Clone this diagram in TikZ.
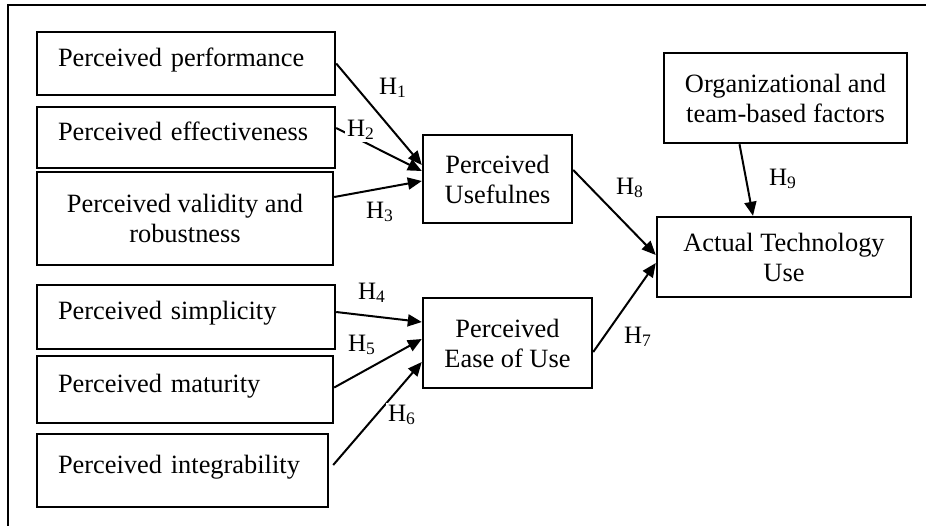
\documentclass[tikz,border=0pt]{standalone}
\usepackage{fontspec}
\setmainfont{Liberation Serif}
\usetikzlibrary{arrows.meta}
\begin{document}
\begin{tikzpicture}[x=.5pt,y=-.5pt,
  factor/.style={draw,line width=1.2pt,inner xsep=10.5pt,align=left,text height=9pt,text depth=6.5pt,font=\fontsize{13.2}{15}\selectfont},
  construct/.style={draw,line width=1.2pt,align=center,font=\fontsize{13.2}{15}\selectfont},
  hyp/.style={fill=white,inner sep=1pt,font=\fontsize{12.5}{14}\selectfont},
  link/.style={line width=1pt,-{Triangle[length=7pt,width=6pt]}}]
\useasboundingbox (0,0) rectangle (926,526);
\draw[line width=1.1pt] (926,5) -| (8,526);
% factors on the left
\node[factor,text width=128pt,minimum height=31.5pt] (perf) at (186,63.5) {Perceived performance};
\node[factor,text width=128pt,minimum height=30.5pt] (eff) at (186,137.5) {Perceived effectiveness};
\node[construct,minimum width=148pt,minimum height=46.5pt] (valid) at (185,218.5) {Perceived validity and\\robustness};
\node[factor,text width=128pt,minimum height=32pt] (simp) at (186,317) {Perceived simplicity};
\node[factor,text width=127pt,minimum height=33.5pt] (mat) at (185,389.5) {Perceived maturity};
\node[factor,text width=124.5pt,minimum height=36.5pt] (integ) at (182.5,470.5) {Perceived integrability};
% constructs
\node[construct,minimum width=74.5pt,minimum height=44pt] (pu) at (497.5,179) {Perceived\\Usefulnes};
\node[construct,minimum width=84.5pt,minimum height=45pt] (peou) at (507.5,343) {Perceived\\Ease of Use};
\node[construct,minimum width=121.5pt,minimum height=45pt] (org) at (785.5,98) {Organizational and\\team-based factors};
\node[construct,minimum width=127pt,minimum height=40pt] (atu) at (784,257) {Actual Technology\\Use};
% hypotheses
\draw[link] (perf.east) -- ([yshift=7pt]pu.west);
\draw[link] ([yshift=4.75pt]eff.east) -- ([yshift=4pt]pu.west);
\draw[link] ([yshift=10.75pt]valid.east) -- ([yshift=-1pt]pu.west);
\draw[link] ([yshift=2.5pt]simp.east) -- ([yshift=10.5pt]peou.west);
\draw[link] ([yshift=1pt]mat.east) -- ([yshift=2pt]peou.west);
\draw[link] ([xshift=2pt,yshift=2.75pt]integ.east) -- ([yshift=-9.5pt]peou.west);
\draw[link] ([yshift=4.5pt]pu.east) -- ([yshift=1pt]atu.west);
\draw[link] ([yshift=-4.5pt]peou.east) -- ([yshift=-3pt]atu.west);
\draw[link] ([xshift=-23pt]org.south) -- ([xshift=-15.5pt]atu.north);
\node[hyp] (h1) at (393,88) {H\textsubscript{1}};
\node[hyp] (h2) at (361,130) {H\textsubscript{2}};
\node[hyp] (h3) at (380,212) {H\textsubscript{3}};
\node[hyp] (h4) at (372,293) {H\textsubscript{4}};
\node[hyp] (h5) at (362,345) {H\textsubscript{5}};
\node[hyp] (h6) at (402,415) {H\textsubscript{6}};
\node[hyp] (h7) at (638,337) {H\textsubscript{7}};
\node[hyp] (h8) at (630,188) {H\textsubscript{8}};
\node[hyp] (h9) at (783,179) {H\textsubscript{9}};
\end{tikzpicture}
\end{document}
